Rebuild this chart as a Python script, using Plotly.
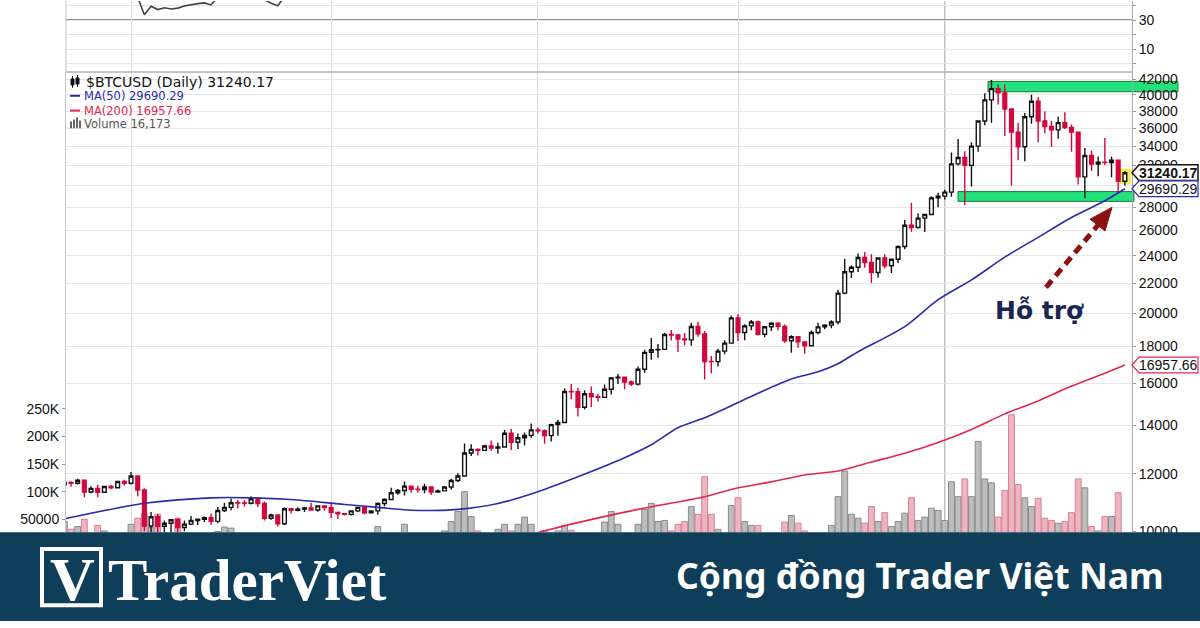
import math
import pandas as pd
import plotly.graph_objects as go

W, H = 1200, 628

# ---------------- data ----------------
dates = pd.date_range("2020-08-22", periods=160, freq="D")

opens = [11590, 11680, 11650, 11760, 11330, 11460, 11320, 11530, 11480, 11710,
         11650, 11920, 11400, 10170, 10470, 10160, 10260, 10370, 10120, 10230,
         10350, 10390, 10440, 10320, 10680, 10790, 10950, 10940, 10930, 11090,
         10920, 10420, 10530, 10240, 10740, 10690, 10730, 10770, 10700, 10840,
         10780, 10620, 10570, 10550, 10670, 10790, 10600, 10670, 10920, 11060,
         11300, 11380, 11540, 11430, 11420, 11510, 11330, 11370, 11510, 11750,
         11920, 12820, 12970, 12930, 13110, 13030, 13070, 13650, 13270, 13460,
         13560, 13800, 13760, 13550, 14030, 14130, 15590, 15580, 14830, 15480,
         15330, 15300, 15700, 16280, 16320, 16070, 15960, 16730, 17650, 17800,
         17820, 18680, 18650, 18420, 18370, 19160, 18720, 17150, 17140, 17720,
         18180, 19700, 18800, 19200, 19450, 18700, 19150, 19360, 19170, 18320,
         18550, 18250, 18030, 18800, 19140, 19250, 19440, 21310, 22800, 23130,
         23860, 23480, 22750, 23820, 23240, 23730, 24710, 26440, 26250, 27040,
         27360, 28840, 29000, 29370, 32130, 32780, 31970, 33990, 36820, 39370,
         40800, 40250, 38240, 35540, 33920, 37320, 39190, 36820, 36180, 35790,
         36630, 36070, 35540, 30830, 33000, 32100, 32290, 32250, 32500, 30400]

highs = [11690, 11720, 11820, 11770, 11540, 11590, 11560, 11580, 11720, 11780,
         12070, 11950, 11460, 10630, 10570, 10350, 10400, 10430, 10350, 10500,
         10400, 10480, 10580, 10800, 10940, 11100, 11040, 11040, 11180, 11090,
         10990, 10570, 10540, 10780, 10760, 10790, 10800, 10950, 10860, 10850,
         10920, 10650, 10600, 10690, 10800, 10800, 10690, 10960, 11110, 11480,
         11440, 11710, 11560, 11560, 11630, 11540, 11420, 11520, 11820, 12020,
         13220, 13180, 13020, 13160, 13340, 13250, 13790, 13850, 13640, 13680,
         14080, 13900, 13820, 14070, 14250, 15750, 15960, 15770, 15650, 15840,
         15460, 15940, 16330, 16480, 16320, 16140, 16880, 17800, 18480, 18130,
         18790, 18950, 18720, 18770, 19400, 19460, 18900, 17450, 17860, 18340,
         19850, 19920, 19300, 19560, 19520, 19170, 19420, 19420, 19290, 18640,
         18560, 18280, 18930, 19390, 19300, 19550, 21540, 23770, 23270, 24170,
         24280, 24100, 23850, 24100, 23790, 24790, 26870, 28400, 27460, 27400,
         28990, 29300, 29600, 33300, 34780, 33450, 34410, 36900, 40200, 41950,
         41350, 41350, 38300, 36600, 37750, 40000, 39700, 37950, 36850, 37300,
         37850, 36400, 35600, 33800, 33500, 32900, 34880, 32900, 32550, 31400]

lows = [11380, 11520, 11600, 11140, 11280, 11140, 11290, 11430, 11460, 11560,
        11600, 11180, 10000, 9920, 9830, 9900, 9880, 9850, 10000, 10200,
        10200, 10300, 10210, 10260, 10630, 10690, 10750, 10820, 10890, 10800,
        10350, 10370, 10150, 10200, 10580, 10660, 10630, 10680, 10640, 10670,
        10430, 10400, 10510, 10510, 10620, 10550, 10580, 10540, 10830, 11050,
        11230, 11200, 11300, 11300, 11280, 11220, 11310, 11360, 11420, 11690,
        11900, 12700, 12720, 12900, 12910, 12800, 13050, 12950, 12990, 13130,
        13450, 13630, 13210, 13300, 13540, 14100, 15210, 14400, 14720, 14840,
        15100, 15290, 15440, 15970, 15700, 15870, 15890, 16550, 17250, 17350,
        17780, 18330, 17670, 18050, 18030, 18550, 16200, 16520, 16880, 17550,
        18180, 18300, 18340, 18940, 18620, 18520, 18900, 18920, 18200, 17630,
        17910, 17570, 18020, 18700, 19000, 19060, 19300, 21230, 22350, 22780,
        23100, 22000, 22380, 23040, 22720, 23450, 24500, 25900, 26160, 25880,
        27340, 28000, 28700, 28950, 31960, 28200, 29900, 33400, 36320, 36600,
        38800, 35100, 30000, 32500, 32400, 36500, 34400, 35400, 33900, 34800,
        35900, 33400, 30100, 28800, 31400, 30900, 32000, 30800, 29300, 30000]

closes = [11680, 11650, 11760, 11330, 11460, 11320, 11530, 11480, 11710, 11650,
          11920, 11400, 10170, 10470, 10160, 10260, 10370, 10120, 10230, 10350,
          10390, 10440, 10320, 10680, 10790, 10950, 10940, 10930, 11090, 10920,
          10420, 10530, 10240, 10740, 10690, 10730, 10770, 10700, 10840, 10780,
          10620, 10570, 10550, 10670, 10790, 10600, 10670, 10920, 11060, 11300,
          11380, 11540, 11430, 11420, 11510, 11330, 11370, 11510, 11750, 11920,
          12820, 12970, 12930, 13110, 13030, 13070, 13650, 13270, 13460, 13560,
          13800, 13760, 13550, 14030, 14130, 15590, 15580, 14830, 15480, 15330,
          15300, 15700, 16280, 16320, 16070, 15960, 16730, 17650, 17800, 17820,
          18680, 18650, 18420, 18370, 19160, 18720, 17150, 17140, 17720, 18180,
          19700, 18800, 19200, 19450, 18700, 19150, 19360, 19170, 18320, 18550,
          18250, 18030, 18800, 19140, 19250, 19440, 21310, 22800, 23130, 23860,
          23480, 22750, 23820, 23240, 23730, 24710, 26440, 26250, 27040, 27360,
          28840, 29000, 29370, 32130, 32780, 31970, 33990, 36820, 39370, 40800,
          40250, 38240, 35540, 33920, 37320, 39190, 36820, 36180, 35790, 36630,
          36070, 35540, 30830, 33000, 32100, 32290, 32250, 32500, 30400, 31240.17]

volumes = [46000, 32000, 37000, 50000, 20000, 39000, 29000, 18000, 21000, 24000,
           41000, 52000, 60000, 35000, 59000, 22000, 24000, 52000, 26000, 25000,
           20000, 16000, 20000, 28000, 36000, 34000, 24000, 20000, 18000, 17000,
           26000, 20000, 22000, 24000, 20000, 12000, 12000, 20000, 18000, 17000,
           24000, 22000, 10000, 10000, 17000, 20000, 15000, 37000, 25000, 22000,
           15000, 41000, 24000, 20000, 22000, 22000, 10000, 29000, 46000, 64000,
           100000, 55000, 29000, 18000, 20000, 32000, 41000, 29000, 41000, 54000,
           41000, 18000, 30000, 24000, 29000, 39000, 30000, 24000, 20000, 25000,
           20000, 45000, 64000, 41000, 22000, 18000, 41000, 68000, 79000, 46000,
           48000, 29000, 41000, 46000, 73000, 59000, 127000, 59000, 32000, 22000,
           75000, 89000, 46000, 39000, 39000, 20000, 18000, 22000, 45000, 57000,
           43000, 29000, 20000, 22000, 18000, 39000, 91000, 137000, 59000, 52000,
           43000, 73000, 46000, 62000, 37000, 46000, 61000, 89000, 48000, 54000,
           70000, 66000, 48000, 118000, 91000, 123000, 91000, 191000, 123000, 116000,
           54000, 102000, 239000, 113000, 89000, 73000, 88000, 52000, 48000, 43000,
           46000, 62000, 123000, 107000, 37000, 29000, 55000, 55000, 98000, 16173]

ma50_idx = [0, 12, 22, 28, 34, 42, 47, 52, 59, 65, 71, 77, 84, 88, 92, 96, 100, 104,
            109, 113, 116, 119, 126, 131, 136, 141, 146, 151, 156, 159]
ma50_val = [10400, 10930, 11120, 11120, 11060, 10890, 10790, 10690, 10720, 10920,
            11340, 11890, 12630, 13160, 13890, 14340, 14900, 15500, 16220, 16600,
            17030, 17690, 19160, 20870, 22220, 23890, 25440, 27090, 28580, 29690.29]

ma200_idx = [60, 70, 76, 86, 96, 101, 106, 111, 116, 121, 126, 131, 136, 141, 146,
             151, 156, 159]
ma200_val = [9450, 9910, 10230, 10720, 11160, 11480, 11700, 11960, 12110, 12460,
             12810, 13260, 13820, 14520, 15130, 15860, 16520, 16957.66]

osc_idx = [10, 11, 12, 13, 14, 15, 16, 17, 18, 19, 20, 21, 22, 23, 24, 30, 31, 32, 33]
osc_val = [50, 45.5, 33.6, 39.5, 37.2, 38.4, 37.6, 38.2, 39.6, 40.6, 41.3, 41.8,
           40.4, 46, None, 44, 41.6, 39.8, 46]

price_ticks = [10000, 12000, 14000, 16000, 18000, 20000, 22000, 24000, 26000, 28000,
               30000, 32000, 34000, 36000, 38000, 40000, 42000]
price_ticktext = ["10000", "12000", "14000", "16000", "18000", "20000", "22000",
                  "24000", "26000", "28000", "", "32000", "34000", "36000", "38000",
                  "40000", "42000"]
vol_ticks = [50000, 100000, 150000, 200000, 250000]
vol_ticktext = ["50000", "100K", "150K", "200K", "250K"]
osc_ticks = [0, 10, 20, 30, 40]
osc_ticktext = ["", "10", "", "30", ""]

last_price = 31240.17
ma50_last = 29690.29
ma200_last = 16957.66
last_volume = "16,173"

# ---------------- layout geometry ----------------
def px(x):
    return x / W

def py(y):
    return 1 - y / H

X_DOM = [px(66), px(1132)]
MAIN_DOM = [py(538), py(72)]
TOP_DOM = [py(72), 1.0]
X_RANGE = [0.25, 160.07]
P_RANGE = [math.log10(9972), math.log10(43004)]
V_RANGE = [26786, 858929]
O_RANGE = [-5.9, 43.1]


def price_to_paper(p):
    f = (math.log10(p) - P_RANGE[0]) / (P_RANGE[1] - P_RANGE[0])
    return MAIN_DOM[0] + f * (MAIN_DOM[1] - MAIN_DOM[0])


x_idx = list(range(len(dates)))
month_idx = [i for i, d in enumerate(dates) if d.day == 1]
year_idx = [i for i, d in enumerate(dates) if d.day == 1 and d.month == 1]
grid_idx = [i for i in month_idx if i not in year_idx]

UP_LINE = "#111111"
DN_COL = "#d2073c"
MA50_COL = "#2b2ba8"
MA200_COL = "#e3274f"

vol_fill = ["#bdbdbd" if c >= o else "#ecb6c0" for o, c in zip(opens, closes)]
vol_line = ["#8a8a8a" if c >= o else "#dc7f92" for o, c in zip(opens, closes)]

fig = go.Figure()

fig.add_trace(go.Bar(
    x=x_idx, y=volumes, width=0.88, xaxis="x", yaxis="y",
    marker=dict(color=vol_fill, line=dict(color=vol_line, width=1)),
    hoverinfo="skip"))

fig.add_trace(go.Candlestick(
    x=x_idx, open=opens, high=highs, low=lows, close=closes,
    xaxis="x", yaxis="y2", whiskerwidth=0,
    increasing=dict(line=dict(color=UP_LINE, width=1.4), fillcolor="white"),
    decreasing=dict(line=dict(color=DN_COL, width=1.4), fillcolor=DN_COL),
    hoverinfo="skip"))

fig.add_trace(go.Scatter(
    x=ma200_idx, y=ma200_val, mode="lines", xaxis="x", yaxis="y2",
    line=dict(color=MA200_COL, width=1.6, shape="spline", smoothing=0.8),
    hoverinfo="skip"))
fig.add_trace(go.Scatter(
    x=ma50_idx, y=ma50_val, mode="lines", xaxis="x", yaxis="y2",
    line=dict(color=MA50_COL, width=1.6, shape="spline", smoothing=0.8),
    hoverinfo="skip"))

fig.add_trace(go.Scatter(
    x=osc_idx, y=osc_val, mode="lines", xaxis="x2", yaxis="y3",
    line=dict(color="#444444", width=1.6), connectgaps=False, hoverinfo="skip"))

AX_FONT = dict(family="Liberation Sans, Arial", size=14, color="#111111")

fig.update_layout(
    width=W, height=H, margin=dict(l=0, r=0, t=0, b=0),
    paper_bgcolor="white", plot_bgcolor="rgba(0,0,0,0)",
    showlegend=False, hovermode=False, dragmode=False, boxgap=0.2,
    xaxis=dict(domain=X_DOM, range=X_RANGE, anchor="y", showticklabels=False,
               tickmode="array", tickvals=grid_idx, ticks="", showgrid=True,
               gridcolor="#dcdcdc", gridwidth=1, zeroline=False, showline=False,
               rangeslider=dict(visible=False)),
    xaxis2=dict(domain=X_DOM, range=X_RANGE, anchor="y3", matches="x",
                showticklabels=False, tickmode="array", tickvals=grid_idx, ticks="",
                showgrid=True, gridcolor="#dcdcdc", zeroline=False, showline=False),
    yaxis=dict(domain=MAIN_DOM, range=V_RANGE, anchor="x", side="left",
               tickmode="array", tickvals=vol_ticks, ticktext=vol_ticktext,
               showgrid=False, zeroline=False, showline=True, linecolor="#c4c4c4",
               linewidth=1, ticks="outside", ticklen=3, tickcolor="#9a9a9a",
               tickfont=AX_FONT),
    yaxis2=dict(overlaying="y", anchor="x", side="right", type="log",
                range=P_RANGE, tickmode="array", tickvals=price_ticks,
                ticktext=price_ticktext, showgrid=True,
                gridcolor="#e6e6e6", gridwidth=1, zeroline=False, showline=True,
                linecolor="#a8a8a8", linewidth=1, ticks="outside", ticklen=3,
                tickcolor="#9a9a9a", tickfont=AX_FONT),
    yaxis3=dict(domain=TOP_DOM, range=O_RANGE, anchor="x2", side="right",
                tickmode="array", tickvals=osc_ticks, ticktext=osc_ticktext,
                showgrid=True, gridcolor="#e6e6e6", zeroline=False, showline=True,
                linecolor="#a8a8a8", ticks="outside", ticklen=3, tickcolor="#9a9a9a",
                tickfont=AX_FONT),
)

shapes = []
for i in year_idx:
    shapes.append(dict(type="line", xref="x", yref="paper", x0=i, x1=i,
                       y0=MAIN_DOM[0], y1=1, line=dict(color="#b4b4b4", width=1.2),
                       layer="below"))
shapes.append(dict(type="line", xref="paper", yref="y3", x0=X_DOM[0], x1=X_DOM[1],
                   y0=30, y1=30, line=dict(color="#6e6e6e", width=1.6), layer="below"))
shapes.append(dict(type="line", xref="paper", yref="paper", x0=X_DOM[0], x1=X_DOM[1],
                   y0=py(72), y1=py(72), line=dict(color="#b0b0b0", width=1.5)))
shapes.append(dict(type="line", xref="paper", yref="paper", x0=X_DOM[0], x1=X_DOM[0],
                   y0=TOP_DOM[0], y1=1, line=dict(color="#c4c4c4", width=1)))

shapes.append(dict(type="rect", xref="paper", yref="paper",
                   x0=px(988), x1=px(1178), y0=price_to_paper(40400), y1=price_to_paper(41750),
                   fillcolor="#22e27c", line=dict(color="#1a7a3a", width=1), layer="below"))
shapes.append(dict(type="rect", xref="paper", yref="paper",
                   x0=px(958), x1=px(1134), y0=price_to_paper(28520), y1=price_to_paper(29420),
                   fillcolor="#22e27c", line=dict(color="#1a7a3a", width=1), layer="below"))
shapes.append(dict(type="rect", xref="paper", yref="paper",
                   x0=px(1120), x1=px(1131), y0=price_to_paper(30150), y1=price_to_paper(31650),
                   fillcolor="#f3f04a", line=dict(width=0), layer="below"))

ARROW = "#8a1212"
shapes.append(dict(type="line", xref="paper", yref="paper",
                   x0=px(1046), y0=py(290), x1=px(1098), y1=py(227),
                   line=dict(color=ARROW, width=5, dash="9px,6px"), layer="above"))
shapes.append(dict(type="path", xref="paper", yref="paper",
                   path=f"M {px(1112)},{py(209)} L {px(1105)},{py(233)} L {px(1090)},{py(221)} Z",
                   fillcolor=ARROW, line=dict(color=ARROW, width=1), layer="above"))


def tag(price, color, width):
    yc = price_to_paper(price)
    hh = 8 / H
    return dict(type="path", xref="paper", yref="paper",
                path=(f"M {px(1132)},{yc} L {px(1139)},{yc + hh} L {px(1198)},{yc + hh} "
                      f"L {px(1198)},{yc - hh} L {px(1139)},{yc - hh} Z"),
                fillcolor="white", line=dict(color=color, width=width), layer="above")


shapes.append(tag(last_price, "#111111", 1.5))
shapes.append(tag(ma50_last, MA50_COL, 1.2))
shapes.append(tag(ma200_last, MA200_COL, 1.2))

shapes.append(dict(type="line", xref="paper", yref="paper", x0=px(70), x1=px(80),
                   y0=py(96), y1=py(96), line=dict(color=MA50_COL, width=2)))
shapes.append(dict(type="line", xref="paper", yref="paper", x0=px(70), x1=px(80),
                   y0=py(111), y1=py(111), line=dict(color=MA200_COL, width=2)))
for x0, top in [(70, 122), (73, 120), (76, 118), (79, 121)]:
    shapes.append(dict(type="rect", xref="paper", yref="paper", x0=px(x0), x1=px(x0 + 2),
                       y0=py(129), y1=py(top), fillcolor="#666666", line=dict(width=0)))
for x0, t, b, bt, bb in [(71, 76, 88, 79, 85), (76, 75, 87, 78, 84)]:
    shapes.append(dict(type="line", xref="paper", yref="paper", x0=px(x0 + 1.5), x1=px(x0 + 1.5),
                       y0=py(b), y1=py(t), line=dict(color="#111", width=1)))
    shapes.append(dict(type="rect", xref="paper", yref="paper", x0=px(x0), x1=px(x0 + 3),
                       y0=py(bb), y1=py(bt), fillcolor="#111", line=dict(color="#111", width=1)))

shapes.append(dict(type="rect", xref="paper", yref="paper", x0=0, x1=1, y0=0, y1=py(538),
                   fillcolor="#0f3e5b", line=dict(width=0), layer="above"))
shapes.append(dict(type="rect", xref="paper", yref="paper", x0=px(42), x1=px(101),
                   y0=py(612), y1=py(555), fillcolor="rgba(0,0,0,0)",
                   line=dict(color="white", width=4), layer="above"))

fig.update_layout(shapes=shapes)

LEG_FONT = "DejaVu Sans, Verdana"
ann = []
ann.append(dict(text=f"$BTCUSD (Daily) {last_price:.2f}", x=px(84), y=py(82),
                xref="paper", yref="paper", xanchor="left", yanchor="middle",
                showarrow=False, font=dict(family=LEG_FONT, size=14, color="#111111")))
ann.append(dict(text=f"MA(50) {ma50_last:.2f}", x=px(82), y=py(96), xref="paper",
                yref="paper", xanchor="left", yanchor="middle", showarrow=False,
                font=dict(family=LEG_FONT, size=11.5, color=MA50_COL)))
ann.append(dict(text=f"MA(200) {ma200_last:.2f}", x=px(82), y=py(111), xref="paper",
                yref="paper", xanchor="left", yanchor="middle", showarrow=False,
                font=dict(family=LEG_FONT, size=11.5, color=MA200_COL)))
ann.append(dict(text=f"Volume {last_volume}", x=px(82), y=py(125), xref="paper",
                yref="paper", xanchor="left", yanchor="middle", showarrow=False,
                font=dict(family=LEG_FONT, size=11.5, color="#555555")))

for price, bold in [(last_price, True), (ma50_last, False), (ma200_last, False)]:
    txt = f"{price:.2f}"
    ann.append(dict(text=f"<b>{txt}</b>" if bold else txt, x=px(1168), y=price_to_paper(price),
                    xref="paper", yref="paper", xanchor="center", yanchor="middle",
                    showarrow=False, font=dict(family="Liberation Sans, Arial", size=14,
                                               color="#111111")))

ann.append(dict(text="<b>Hỗ trợ</b>", x=px(1039), y=py(313), xref="paper", yref="paper",
                xanchor="center", yanchor="middle", showarrow=False,
                font=dict(family="DejaVu Sans, Verdana", size=25, color="#1b2552")))

ann.append(dict(text="<b>V</b>", x=px(72), y=py(585), xref="paper", yref="paper",
                xanchor="center", yanchor="middle", showarrow=False,
                font=dict(family="Liberation Serif, Times New Roman", size=62, color="white")))
ann.append(dict(text="<b>TraderViet</b>", x=px(106), y=py(586), xref="paper", yref="paper",
                xanchor="left", yanchor="middle", showarrow=False,
                font=dict(family="Liberation Serif, Times New Roman", size=59, color="white")))
ann.append(dict(text="<b>Cộng đồng Trader Việt Nam</b>", x=px(1166), y=py(581),
                xref="paper", yref="paper", xanchor="right", yanchor="middle",
                showarrow=False, font=dict(family="Noto Sans, Lato", size=35.5, color="white")))

fig.update_layout(annotations=ann)

post = (
    "document.documentElement.style.margin='0';"
    "document.documentElement.style.padding='0';"
    "document.documentElement.style.overflow='hidden';"
    "document.body.style.margin='0';"
    "document.body.style.padding='0';"
    "document.body.style.overflow='hidden';"
    "var gd=document.getElementById('{plot_id}');"
    "var hh=window.innerHeight||628; var ww=window.innerWidth||1200;"
    "if(hh<400){hh=628;} if(ww<800){ww=1200;}"
    "if(hh!==628||ww!==1200){Plotly.relayout(gd,{height:hh,width:ww});}"
)

fig.write_html("out.html", config={"displayModeBar": False, "staticPlot": True},
               post_script=post)
